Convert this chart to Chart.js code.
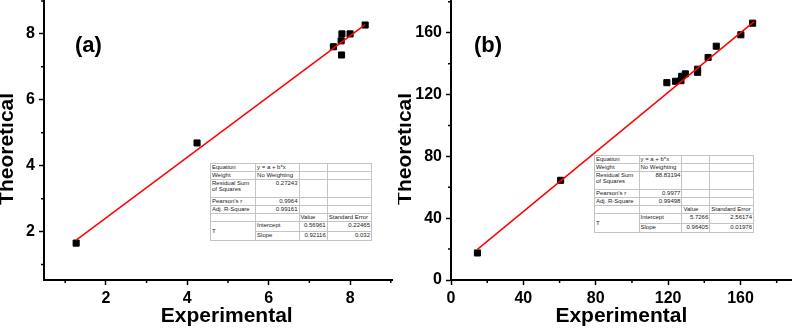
<!DOCTYPE html>
<html>
<head>
<meta charset="utf-8">
<script src="https://cdn.jsdelivr.net/npm/chart.js@4.4.0/dist/chart.umd.min.js"></script>
<style>
html, body { margin: 0; padding: 0; background: #fff; width: 797px; height: 328px; overflow: hidden; }
.panel { position: absolute; top: -5px; }
.tag { position: absolute; font: bold 22px "Liberation Sans", Arial, sans-serif; line-height: 22px; color: #000; }
table.stats { position: absolute; border-collapse: collapse; table-layout: fixed; background: #fff;
  font: 6px "Liberation Sans", Arial, sans-serif; color: #222; border: 1px solid #8a8a8a; }
table.stats td { border: 1px solid #c4c4c4; padding: 0 1px; line-height: 6px; white-space: nowrap; overflow: hidden; vertical-align: top; }
table.stats td.r { text-align: right; }
table.stats td.mid { vertical-align: middle; }
</style>
</head>
<body>
<canvas id="chartA" class="panel" width="398" height="334" style="left:0px"></canvas>
<canvas id="chartB" class="panel" width="399" height="334" style="left:398px"></canvas>
<div class="tag" style="left:75px; top:34px">(a)</div>
<div class="tag" style="left:474px; top:34px">(b)</div>
<table class="stats" id="statsA" style="left:210px; top:163px; width:162px; height:78px"></table>
<table class="stats" id="statsB" style="left:594px; top:155px; width:160px; height:78px"></table>

<script>
const FONT = '"Liberation Sans", Arial, sans-serif';

// panel (a)
const aExperimental = [1.27, 4.24, 7.59, 7.78, 7.80, 7.79, 8.00, 8.37];
const aTheoretical = [1.65, 4.69, 7.61, 7.79, 8.00, 7.36, 8.00, 8.27];
const aFitX = [1.27, 8.37];
const aFitY = [1.74, 8.28];
const aMajor = [2, 4, 6, 8];
const aMinor = [1, 3, 5, 7, 9];
const aStats = ['0.27243', '0.9964', '0.99161', '0.56961', '0.22465', '0.92116', '0.032'];

// panel (b)
const bExperimental = [14.6, 60.6, 119.3, 124.1, 127.1, 127.5, 129.5, 136.3, 136.3, 142.1, 146.6, 160.2, 166.7];
const bTheoretical = [17.5, 64.5, 127.7, 128.6, 129.0, 131.8, 133.4, 136.4, 134.4, 144.0, 151.3, 158.7, 166.2];
const bFitX = [14.6, 167.5];
const bFitY = [19.8, 167.2];
const bMajor = [0, 40, 80, 120, 160];
const bMinor = [20, 60, 100, 140, 180];
const bStats = ['88.83194', '0.9977', '0.99498', '5.7266', '2.56174', '0.96405', '0.01976'];

// minor tick marks, shorter than the labelled ones
const minorTicks = {
    id: 'minorTicks',
    afterDraw(chart, args, opts) {
        const ctx = chart.ctx;
        const xs = chart.scales.x;
        const ys = chart.scales.y;
        ctx.save();
        ctx.strokeStyle = '#000';
        ctx.lineWidth = 1.5;
        ctx.beginPath();
        opts.values.forEach((v) => {
            const px = xs.getPixelForValue(v);
            if (px >= xs.left - 1 && px <= xs.right + 1) {
                ctx.moveTo(px, xs.top);
                ctx.lineTo(px, xs.top + opts.len);
            }
            const py = ys.getPixelForValue(v);
            if (py >= ys.top - 1 && py <= ys.bottom + 1) {
                ctx.moveTo(ys.right - opts.len, py);
                ctx.lineTo(ys.right, py);
            }
        });
        ctx.stroke();
        ctx.restore();
    }
};

function axis(min, max, major, title, fit) {
    return {
        type: 'linear',
        min: min,
        max: max,
        border: { color: '#000', width: 2 },
        grid: { drawOnChartArea: false, drawTicks: true, tickLength: 5, tickWidth: 1.5, tickColor: '#000' },
        ticks: {
            color: '#000', padding: 4, autoSkip: false, maxRotation: 0,
            font: { family: FONT, size: 16, weight: 'bold' }
        },
        afterBuildTicks: (s) => { s.ticks = major.map((v) => ({ value: v })); },
        afterFit: fit,
        title: title
    };
}

function makePanel(id, xs, ys, fitX, fitY, major, minor, range, yWidth, padRight, xText, yText) {
    const xTitle = {
        display: true, text: xText, color: '#000',
        font: { family: FONT, size: 21, weight: 'bold', lineHeight: 0.73 },
        padding: { top: 0, bottom: 5 }
    };
    const yTitle = {
        display: true, text: yText, color: '#000',
        font: { family: FONT, size: 21, weight: 'bold', lineHeight: 0.73 },
        padding: { top: 0, bottom: 0 }
    };
    return new Chart(document.getElementById(id), {
        type: 'scatter',
        data: {
            datasets: [{
                data: fitX.map((x, i) => ({ x: x, y: fitY[i] })),
                showLine: true,
                borderColor: '#ff0000',
                borderWidth: 1.5,
                pointRadius: 0,
                fill: false
            }, {
                data: xs.map((x, i) => ({ x: x, y: ys[i] })),
                pointStyle: 'rect',
                pointRadius: 4.3,
                backgroundColor: '#000',
                borderColor: '#000',
                borderWidth: 1
            }]
        },
        options: {
            responsive: false,
            animation: false,
            devicePixelRatio: 1,
            layout: { padding: { left: 0, top: 0, right: padRight, bottom: 0 } },
            plugins: {
                legend: { display: false },
                tooltip: { enabled: false },
                minorTicks: { values: minor, len: 3 }
            },
            scales: {
                x: axis(range[0], range[1], major, xTitle, (s) => {
                    s.height = 49; s.paddingLeft = 0; s.paddingRight = 0;
                }),
                y: axis(range[2], range[3], major, yTitle, (s) => {
                    s.width = yWidth; s.paddingTop = 0; s.paddingBottom = 0;
                })
            }
        },
        plugins: [minorTicks]
    });
}

function buildStats(id, st) {
    const rows = [
        ['<td>Equation</td><td>y = a + b*x</td><td></td><td></td>', 8],
        ['<td>Weight</td><td>No Weighting</td><td></td><td></td>', 8],
        ['<td>Residual Sum<br>of Squares</td><td class="r">' + st[0] + '</td><td></td><td></td>', 17],
        ['<td>Pearson\'s r</td><td class="r">' + st[1] + '</td><td></td><td></td>', 8],
        ['<td>Adj. R-Square</td><td class="r">' + st[2] + '</td><td></td><td></td>', 8],
        ['<td></td><td></td><td>Value</td><td>Standard Error</td>', 8],
        ['<td rowspan="2" class="mid">T</td><td>Intercept</td><td class="r">' + st[3] + '</td><td class="r">' + st[4] + '</td>', 9],
        ['<td>Slope</td><td class="r">' + st[5] + '</td><td class="r">' + st[6] + '</td>', 9]
    ];
    const widths = [28, 27, 17.5, 27.5];
    let html = '<colgroup>' + widths.map((w) => '<col style="width:' + w + '%">').join('') + '</colgroup>';
    rows.forEach((r) => { html += '<tr style="height:' + r[1] + 'px">' + r[0] + '</tr>'; });
    document.getElementById(id).innerHTML = html;
}

// panel (a) titles sit a little off-centre in the original, hence the padding spaces
makePanel('chartA', aExperimental, aTheoretical, aFitX, aFitY, aMajor, aMinor, [0.48, 9.03, 0.53, 9.02], 44, 6,
    '   Experimental', 'Theoretical   ');
makePanel('chartB', bExperimental, bTheoretical, bFitX, bFitY, bMajor, bMinor, [0, 188.3, 0, 181], 53, 2,
    'Experimental', 'Theoretical   ');
buildStats('statsA', aStats);
buildStats('statsB', bStats);
</script>
</body>
</html>
